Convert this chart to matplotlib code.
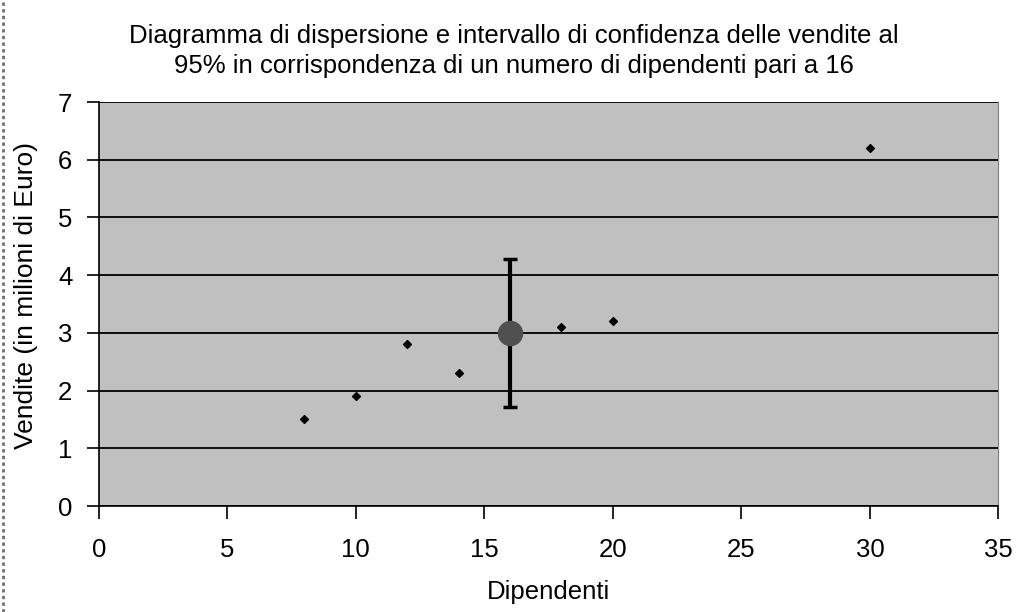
import matplotlib.pyplot as plt
from matplotlib.lines import Line2D

# dati
dipendenti = [8, 10, 12, 14, 18, 20, 30]
vendite = [1.5, 1.9, 2.8, 2.3, 3.1, 3.2, 6.2]
x_stima = [16]
y_stima = [3.0]
semi_ampiezza = [1.28]

plt.rcParams["font.family"] = ["Liberation Sans", "DejaVu Sans"]

fig = plt.figure(figsize=(10.23, 6.12), dpi=100)
ax = fig.add_axes([0.0965, 0.1732, 0.8795, 0.6601])
ax.set_facecolor("#c0c0c0")

ax.errorbar(x_stima, y_stima, yerr=semi_ampiezza, fmt="none", ecolor="black",
            elinewidth=3, capsize=5, capthick=2.5, zorder=3)
ax.scatter(x_stima, y_stima, s=300, color="#505050", zorder=4)
ax.scatter(dipendenti, vendite, marker="D", s=16, color="black", zorder=5)

ax.set_xlim(0, 35)
ax.set_ylim(0, 7)
ax.set_xticks(range(0, 36, 5))
ax.set_yticks(range(0, 8))
ax.yaxis.grid(True, color="black", lw=1.3)
ax.set_axisbelow(True)
ax.spines["top"].set_visible(False)
ax.spines["right"].set_color("#808080")
ax.spines["left"].set_linewidth(1.2)
ax.spines["bottom"].set_linewidth(1.2)
ax.tick_params(direction="out", length=9, width=1.2, labelsize=18.5)
ax.tick_params(axis="x", pad=14)
ax.tick_params(axis="y", pad=10)

ax.set_xlabel("Dipendenti", fontsize=18.5, labelpad=13)
ax.set_ylabel("Vendite (in milioni di Euro)", fontsize=19, labelpad=14)
ax.yaxis.set_label_coords(-0.068, 0.52)

fig.text(0.502, 0.917, "Diagramma di dispersione e intervallo di confidenza delle vendite al\n"
         "95% in corrispondenza di un numero di dipendenti pari a 16",
         ha="center", va="center", fontsize=18.5, linespacing=1.3)

fig.add_artist(Line2D([0.003, 0.003], [0, 1], transform=fig.transFigure,
                      color="#707070", lw=2, ls=(0, (1.2, 1.2))))

fig.savefig("out.png", dpi=100, facecolor="white")
